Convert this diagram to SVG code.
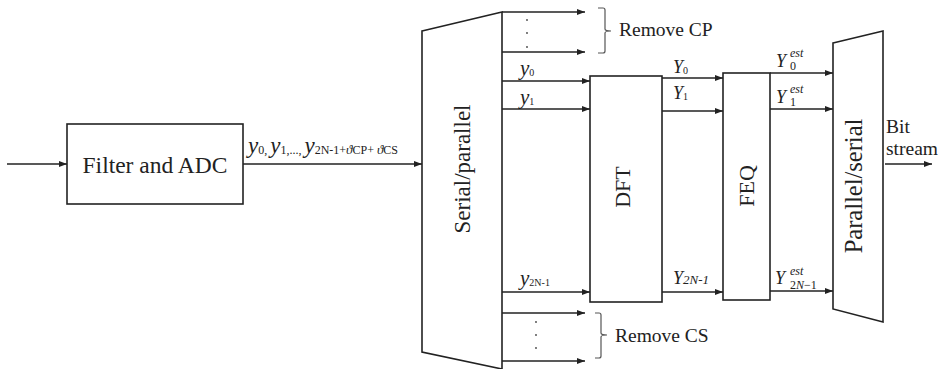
<svg xmlns="http://www.w3.org/2000/svg" width="941" height="369" viewBox="0 0 941 369">
<defs>
<marker id="ah" viewBox="0 0 8 6" refX="8" refY="3" markerWidth="8" markerHeight="6" markerUnits="userSpaceOnUse" orient="auto">
<path d="M0,0 L8,3 L0,6 Z" fill="#222"/>
</marker>
</defs>
<style>
.box{fill:#fff;stroke:#222;stroke-width:1.6}
.ln{fill:none;stroke:#222;stroke-width:1.3;marker-end:url(#ah)}
.br{fill:none;stroke:#555;stroke-width:1.2}
.t{font-family:"Liberation Serif","Times New Roman",serif;fill:#222}
.i{font-family:"Liberation Serif","Times New Roman",serif;font-style:italic;fill:#222}
.dot{fill:#444}
</style>
<rect width="941" height="369" fill="#fff"/>
<g id="connectors">
<line class="ln" x1="7" y1="164" x2="67" y2="164"/>
<line class="ln" x1="243" y1="164" x2="422" y2="164"/>
<line class="ln" x1="502" y1="12" x2="585" y2="12"/>
<line class="ln" x1="502" y1="52" x2="585" y2="52"/>
<line class="ln" x1="502" y1="81" x2="590" y2="81"/>
<line class="ln" x1="502" y1="109" x2="590" y2="109"/>
<line class="ln" x1="502" y1="292" x2="590" y2="292"/>
<line class="ln" x1="502" y1="313" x2="585" y2="313"/>
<line class="ln" x1="502" y1="361" x2="585" y2="361"/>
<line class="ln" x1="662" y1="78" x2="723" y2="78"/>
<line class="ln" x1="662" y1="111" x2="723" y2="111"/>
<line class="ln" x1="662" y1="292" x2="723" y2="292"/>
<line class="ln" x1="770" y1="73" x2="833" y2="73"/>
<line class="ln" x1="770" y1="109" x2="833" y2="109"/>
<line class="ln" x1="770" y1="291" x2="833" y2="291"/>
<line class="ln" x1="885" y1="164" x2="932" y2="164"/>
</g>
<g id="filter">
<rect class="box" x="67" y="124" width="176" height="80"/>
<text class="t" x="155" y="173" font-size="23.5" text-anchor="middle">Filter and ADC</text>
</g>
<g id="serial-parallel">
<path class="box" d="M422,31 L502,12 L502,369 L422,352 Z"/>
<text class="t" font-size="23" text-anchor="middle" transform="translate(470,169) rotate(-90)">Serial/parallel</text>
</g>
<g id="dft">
<rect class="box" x="590" y="76" width="72" height="226"/>
<text class="t" font-size="22" text-anchor="middle" transform="translate(630,187) rotate(-90)">DFT</text>
</g>
<g id="feq">
<rect class="box" x="723" y="73" width="47" height="227"/>
<text class="t" font-size="22" text-anchor="middle" transform="translate(754,186) rotate(-90)">FEQ</text>
</g>
<g id="parallel-serial">
<path class="box" d="M833,43 L883,31 L883,322 L833,309 Z"/>
<text class="t" font-size="24.5" text-anchor="middle" transform="translate(862,186) rotate(-90)">Parallel/serial</text>
</g>
<g id="labels">
<text x="248" y="153"><tspan class="i" font-size="23">y</tspan><tspan class="t" font-size="12" dy="1">0, </tspan><tspan class="i" font-size="23" dy="-1">y</tspan><tspan class="t" font-size="12" dy="1">1,..., </tspan><tspan class="i" font-size="23" dy="-1">y</tspan><tspan class="t" font-size="12" dy="1">2N-1+</tspan><tspan class="i" font-size="13">ϑ</tspan><tspan class="t" font-size="12">CP+ </tspan><tspan class="i" font-size="13">ϑ</tspan><tspan class="t" font-size="12">CS</tspan></text>
<text x="520" y="75"><tspan class="i" font-size="21">y</tspan><tspan class="t" font-size="10" dy="1">0</tspan></text>
<text x="520" y="104"><tspan class="i" font-size="21">y</tspan><tspan class="t" font-size="10" dy="1">1</tspan></text>
<text x="520" y="285"><tspan class="i" font-size="21">y</tspan><tspan class="t" font-size="10" dy="1">2N-1</tspan></text>
<text x="673" y="73"><tspan class="i" font-size="18">Y</tspan><tspan class="t" font-size="10" dy="1">0</tspan></text>
<text x="673" y="99"><tspan class="i" font-size="18">Y</tspan><tspan class="t" font-size="10" dy="1">1</tspan></text>
<text x="673" y="284"><tspan class="i" font-size="18">Y</tspan><tspan class="i" font-size="13">2N-1</tspan></text>
<text class="i" x="776" y="67" font-size="18">Y</text><text class="i" x="790" y="57" font-size="12">est</text><text class="t" x="790" y="70" font-size="12">0</text>
<text class="i" x="776" y="103" font-size="18">Y</text><text class="i" x="790" y="93" font-size="12">est</text><text class="t" x="790" y="106" font-size="12">1</text>
<text class="i" x="775" y="284" font-size="18">Y</text><text class="i" x="790" y="275" font-size="12">est</text><text x="790" y="289" font-size="12"><tspan class="t">2</tspan><tspan class="i">N</tspan><tspan class="t">−1</tspan></text>
<text class="t" x="886" y="133" font-size="19.5">Bit</text>
<text class="t" x="886" y="155" font-size="19.5">stream</text>
</g>
<g id="remove-cp">
<circle class="dot" cx="527" cy="20" r="0.9"/>
<circle class="dot" cx="527" cy="33" r="0.9"/>
<circle class="dot" cx="527" cy="47" r="0.9"/>
<path class="br" d="M598,8 L603,8 Q605,8 605,10 L605,29 Q605,31 611,31 Q605,31 605,33 L605,51 Q605,53 603,53 L598,53"/>
<text class="t" x="619" y="36" font-size="19.5">Remove CP</text>
</g>
<g id="remove-cs">
<circle class="dot" cx="536" cy="322" r="0.9"/>
<circle class="dot" cx="536" cy="335" r="0.9"/>
<circle class="dot" cx="536" cy="348" r="0.9"/>
<path class="br" d="M595,313 L599,313 Q601,313 601,315 L601,333 Q601,335 607,335 Q601,335 601,337 L601,356 Q601,358 599,358 L595,358"/>
<text class="t" x="615" y="342" font-size="19.5">Remove CS</text>
</g>
</svg>
